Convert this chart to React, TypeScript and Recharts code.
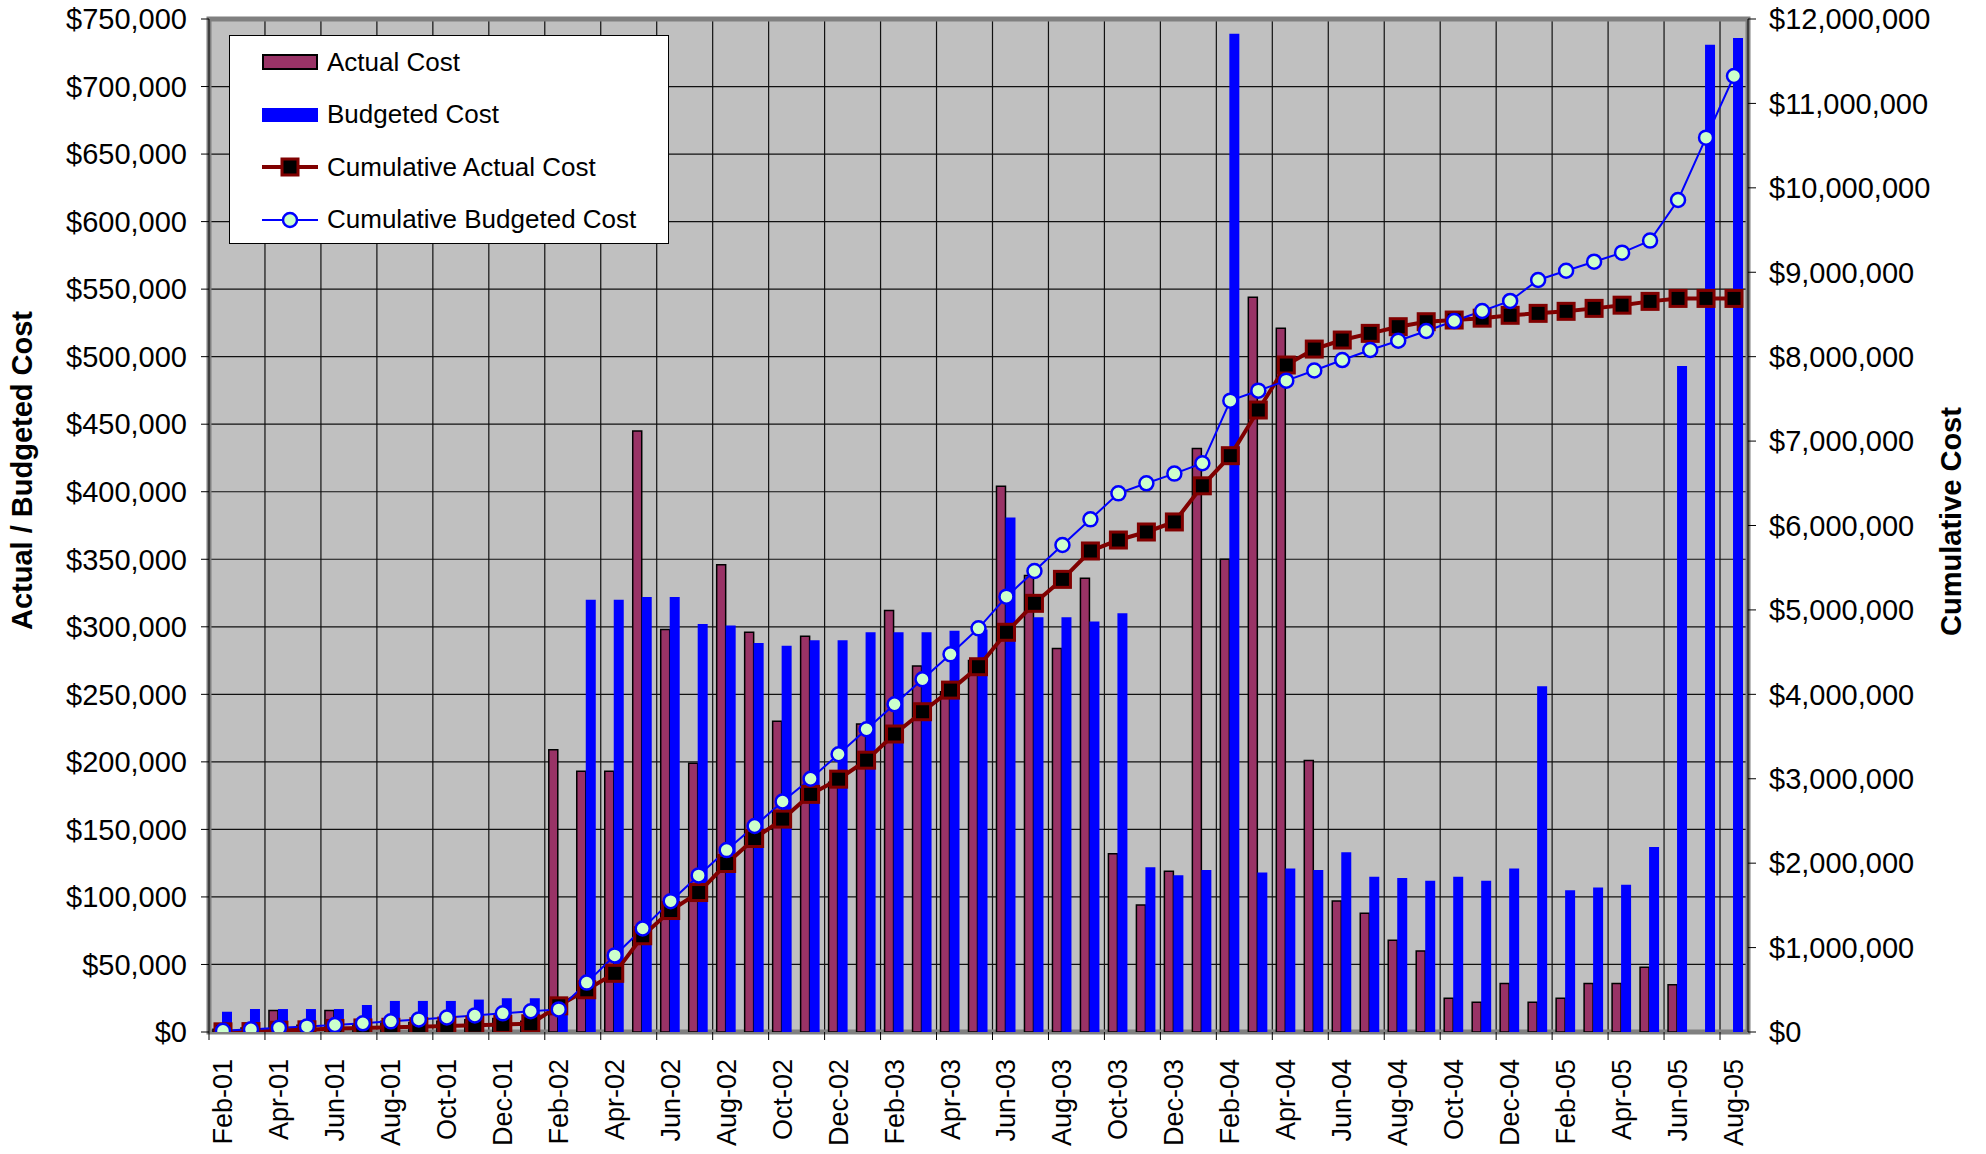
import React from 'react';
import {
  ComposedChart,
  Bar,
  Line,
  XAxis,
  YAxis,
  CartesianGrid,
  Legend,
  ReferenceArea,
  Label,
} from 'recharts';

const FONT = '"Liberation Sans", Arial, Helvetica, sans-serif';

const months = [
  'Feb-01', 'Mar-01', 'Apr-01', 'May-01', 'Jun-01', 'Jul-01', 'Aug-01', 'Sep-01', 'Oct-01', 'Nov-01', 'Dec-01',
  'Jan-02', 'Feb-02', 'Mar-02', 'Apr-02', 'May-02', 'Jun-02', 'Jul-02', 'Aug-02', 'Sep-02', 'Oct-02', 'Nov-02', 'Dec-02',
  'Jan-03', 'Feb-03', 'Mar-03', 'Apr-03', 'May-03', 'Jun-03', 'Jul-03', 'Aug-03', 'Sep-03', 'Oct-03', 'Nov-03', 'Dec-03',
  'Jan-04', 'Feb-04', 'Mar-04', 'Apr-04', 'May-04', 'Jun-04', 'Jul-04', 'Aug-04', 'Sep-04', 'Oct-04', 'Nov-04', 'Dec-04',
  'Jan-05', 'Feb-05', 'Mar-05', 'Apr-05', 'May-05', 'Jun-05', 'Jul-05', 'Aug-05',
];

const actualCost: (number | null)[] = [
  2000, 3000, 16000, 5000, 16000, 6000, 8000, 7000, 8000, 9000, 10000,
  8000, 209000, 193000, 193000, 445000, 298000, 199000, 346000, 296000, 230000, 293000, 185000,
  228000, 312000, 271000, 252000, 275000, 404000, 338000, 284000, 336000, 132000, 94000, 119000,
  432000, 350000, 544000, 521000, 201000, 97000, 88000, 68000, 60000, 25000, 22000, 36000,
  22000, 25000, 36000, 36000, 48000, 35000, null, null,
];

const budgetedCost = [
  15000, 17000, 17000, 17000, 17000, 20000, 23000, 23000, 23000, 24000, 25000,
  25000, 22000, 320000, 320000, 322000, 322000, 302000, 301000, 288000, 286000, 290000, 290000,
  296000, 296000, 296000, 297000, 298000, 381000, 307000, 307000, 304000, 310000, 122000, 116000,
  120000, 739000, 118000, 121000, 120000, 133000, 115000, 114000, 112000, 115000, 112000, 121000,
  256000, 105000, 107000, 109000, 137000, 493000, 731000, 736000,
];

const cumulativeActual = [
  2000, 5000, 21000, 26000, 42000, 48000, 56000, 63000, 71000, 80000, 90000,
  98000, 310000, 500000, 695000, 1140000, 1439000, 1652000, 1996000, 2292000, 2522000, 2815000, 2995000,
  3220000, 3530000, 3794000, 4050000, 4327000, 4735000, 5078000, 5362000, 5698000, 5828000, 5923000, 6042000,
  6470000, 6827000, 7368000, 7901000, 8090000, 8197000, 8276000, 8355000, 8414000, 8434000, 8456000, 8490000,
  8513000, 8537000, 8572000, 8610000, 8655000, 8690000, 8690000, 8690000,
];

const cumulativeBudgeted = [
  15000, 32000, 49000, 66000, 83000, 103000, 126000, 149000, 172000, 196000, 221000,
  246000, 268000, 585000, 907000, 1226000, 1550000, 1855000, 2155000, 2440000, 2730000, 3000000, 3290000,
  3586000, 3882000, 4178000, 4474000, 4782000, 5157000, 5461000, 5769000, 6073000, 6381000, 6500000, 6615000,
  6737000, 7479000, 7597000, 7716000, 7836000, 7960000, 8079000, 8189000, 8304000, 8422000, 8541000, 8660000,
  8908000, 9018000, 9125000, 9232000, 9375000, 9856000, 10594000, 11325000,
];

const leftTicks = [
  0, 50000, 100000, 150000, 200000, 250000, 300000, 350000, 400000,
  450000, 500000, 550000, 600000, 650000, 700000, 750000,
];
const rightTicks = [
  0, 1000000, 2000000, 3000000, 4000000, 5000000, 6000000,
  7000000, 8000000, 9000000, 10000000, 11000000, 12000000,
];
// month boundaries where the vertical gridlines / x tick marks sit
const boundaryTicks = [
  0, 2, 4, 6, 8, 10, 12, 14, 16, 18, 20, 22, 24, 26,
  28, 30, 32, 34, 36, 38, 40, 42, 44, 46, 48, 50, 52, 54,
];

const data = months.map((month, i) => ({
  month,
  pos: i + 0.5,
  actual: actualCost[i],
  budget: budgetedCost[i],
  cumActual: cumulativeActual[i],
  cumBudget: cumulativeBudgeted[i],
}));

const money = (v: number) => '$' + v.toLocaleString('en-US');

const MonthTick = ({ x, y, payload }: any) => (
  <text
    x={x}
    y={y}
    transform={`rotate(-90 ${x} ${y})`}
    textAnchor="end"
    dominantBaseline="central"
    fontSize={27}
    fontFamily={FONT}
    fill="#000"
  >
    {payload.value}
  </text>
);

const SquareDot = (props: any) => {
  const { cx, cy, index } = props;
  if (cx == null || cy == null) return null;
  return (
    <rect key={`sq-${index}`} x={cx - 8} y={cy - 8} width={16} height={16}
      fill="#000" stroke="#800000" strokeWidth={3} />
  );
};

const axisTitle = (text: string, dxFromAxis: number, dyFromMid: number) => (props: any) => {
  const vb = props.viewBox;
  const x = vb.x + dxFromAxis;
  const y = vb.y + vb.height / 2 + dyFromMid;
  return (
    <text x={x} y={y} transform={`rotate(-90 ${x} ${y})`} textAnchor="middle"
      dominantBaseline="central" fontSize={29} fontWeight="bold" fontFamily={FONT} fill="#000">
      {text}
    </text>
  );
};

const legendRows = [
  { name: 'Actual Cost', kind: 'actualBar' },
  { name: 'Budgeted Cost', kind: 'budgetBar' },
  { name: 'Cumulative Actual Cost', kind: 'actualLine' },
  { name: 'Cumulative Budgeted Cost', kind: 'budgetLine' },
];

const LegendIcon = ({ kind }: { kind: string }) => (
  <svg width={56} height={20}>
    {kind === 'actualBar' && <rect x={1} y={3} width={54} height={14} fill="#993366" stroke="#000" strokeWidth={2} />}
    {kind === 'budgetBar' && <rect x={0} y={3} width={56} height={14} fill="#0000FF" />}
    {kind === 'actualLine' && (
      <>
        <line x1={0} y1={10} x2={56} y2={10} stroke="#800000" strokeWidth={4} />
        <rect x={20} y={2} width={16} height={16} fill="#000" stroke="#800000" strokeWidth={3} />
      </>
    )}
    {kind === 'budgetLine' && (
      <>
        <line x1={0} y1={10} x2={56} y2={10} stroke="#0000FF" strokeWidth={2} />
        <circle cx={28} cy={10} r={7} fill="#CCFFCC" stroke="#0000FF" strokeWidth={2.5} />
      </>
    )}
  </svg>
);

const LegendBox = () => (
  <div style={{
    position: 'relative', width: 440, height: 209, boxSizing: 'border-box',
    background: '#fff', border: '1px solid #000', fontFamily: FONT,
  }}>
    {legendRows.map((row, i) => (
      <div key={row.name} style={{
        position: 'absolute', left: 32, top: 26 + i * 52.6 - 14, height: 28,
        display: 'flex', alignItems: 'center', whiteSpace: 'nowrap',
      }}>
        <LegendIcon kind={row.kind} />
        <span style={{ marginLeft: 9, fontSize: 26, color: '#000' }}>{row.name}</span>
      </div>
    ))}
  </div>
);

export default function App() {
  return (
    <div style={{ position: 'absolute', left: 0, top: 0, width: 1986, height: 1154, background: '#fff' }}>
      <ComposedChart
        width={1986}
        height={1154}
        data={data}
        margin={{ top: 19, right: 0, bottom: 0, left: 0 }}
        barGap={0}
      >
        <CartesianGrid xAxisId="axGrid" yAxisId="left" fill="#C0C0C0" stroke="#111" strokeWidth={1.2} />

        <XAxis
          xAxisId="cat"
          dataKey="month"
          interval={1}
          height={112}
          tickSize={0}
          tickMargin={17}
          tickLine={false}
          axisLine={false}
          tick={<MonthTick />}
        />
        <XAxis
          xAxisId="axGrid"
          dataKey="pos"
          type="number"
          domain={[0, 55]}
          ticks={boundaryTicks}
          allowDataOverflow
          height={10}
          tickSize={8}
          tickLine={{ stroke: '#000' }}
          axisLine={false}
          tickFormatter={() => ''}
        />

        <YAxis
          yAxisId="left"
          width={209}
          domain={[0, 750000]}
          ticks={leftTicks}
          tickFormatter={money}
          tickSize={8}
          tickMargin={14}
          axisLine={{ stroke: '#000' }}
          tickLine={{ stroke: '#000' }}
          tick={{ fill: '#000', fontSize: 29, fontFamily: FONT }}
          allowDataOverflow
        >
          <Label content={axisTitle('Actual / Budgeted Cost', 22, -55)} />
        </YAxis>
        <YAxis
          yAxisId="right"
          orientation="right"
          width={238}
          domain={[0, 12000000]}
          ticks={rightTicks}
          tickFormatter={money}
          tickSize={8}
          tickMargin={13}
          axisLine={{ stroke: '#000' }}
          tickLine={{ stroke: '#000' }}
          tick={{ fill: '#000', fontSize: 29, fontFamily: FONT }}
          allowDataOverflow
        >
          <Label content={axisTitle('Cumulative Cost', 203, -4)} />
        </YAxis>

        <Bar xAxisId="cat" yAxisId="left" dataKey="actual" name="Actual Cost" barSize={9}
          fill="#993366" stroke="#000" strokeWidth={1.5} isAnimationActive={false} />
        <Bar xAxisId="cat" yAxisId="left" dataKey="budget" name="Budgeted Cost" barSize={10}
          fill="#0000FF" isAnimationActive={false} />

        <Line xAxisId="cat" yAxisId="right" dataKey="cumActual" name="Cumulative Actual Cost"
          stroke="#800000" strokeWidth={4} dot={<SquareDot />} activeDot={false}
          isAnimationActive={false} />
        <Line xAxisId="cat" yAxisId="right" dataKey="cumBudget" name="Cumulative Budgeted Cost"
          stroke="#0000FF" strokeWidth={2}
          dot={{ r: 7, fill: '#CCFFCC', stroke: '#0000FF', strokeWidth: 2.5 }} activeDot={false}
          isAnimationActive={false} />

        <ReferenceArea xAxisId="axGrid" yAxisId="left" x1={0} x2={55} y1={0} y2={750000}
          fill="none" fillOpacity={0} stroke="#808080" strokeWidth={5} />

        <Legend
          layout="vertical"
          align="center"
          verticalAlign="middle"
          wrapperStyle={{ left: 229, top: 35, width: 440, height: 209 }}
          content={<LegendBox />}
        />
      </ComposedChart>
    </div>
  );
}
